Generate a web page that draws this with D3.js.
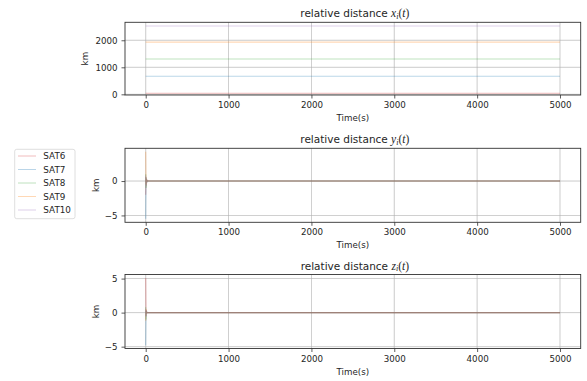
<!DOCTYPE html>
<html>
  <script src="https://cdn.jsdelivr.net/npm/d3@7"></script>
  <style>
    body { margin: 0; background: #fff; }
    text { font-family: "DejaVu Sans", sans-serif; fill: #262626; }
    .math { font-family: "Liberation Serif", serif; font-style: italic; }
  </style>
  <body>
    <script>
// data
var sats = ['SAT6', 'SAT7', 'SAT8', 'SAT9', 'SAT10']
var colors = ['#d62728', '#1f77b4', '#2ca02c', '#ff7f0e', '#9467bd']
var xTicks = [0, 1000, 2000, 3000, 4000, 5000]

// x(t): flat lines over the whole run
var tFlat = [0, 5000]
var xSat6 = [40, 40]
var xSat7 = [667, 667]
var xSat8 = [1307, 1307]
var xSat9 = [1930, 1930]
var xSat10 = [2530, 2530]

// y(t), z(t): short transient right after t = 0, then zero
var tTrans = [0, 4, 8, 12, 16, 24, 40, 5000]
var ySat6 = [-2.0, 0.6, -0.8, 0.3, -0.1, 0.05, 0, 0]
var ySat7 = [-5.5, 0.5, -0.3, 0.2, -0.1, 0, 0, 0]
var ySat8 = [1.0, -1.0, 0.4, -0.2, 0.1, 0, 0, 0]
var ySat9 = [4.27, -0.5, 0.3, -0.1, 0.05, 0, 0, 0]
var ySat10 = [0.8, -0.6, 0.3, -0.2, 0.1, 0, 0, 0]

var zSat6 = [5.1, -0.5, 0.4, -0.1, 0.05, 0, 0, 0]
var zSat7 = [-4.78, 0.3, -0.2, 0.1, 0, 0, 0, 0]
var zSat8 = [0.8, -1.0, 0.3, -0.1, 0.05, 0, 0, 0]
var zSat9 = [-1.2, 0.5, -0.2, 0.1, 0, 0, 0, 0]
var zSat10 = [0.5, -0.6, 0.3, -0.1, 0.05, 0, 0, 0]

var W = 587, H = 381
var svg = d3.select('body').append('svg').attr('width', W).attr('height', H)

var left = 125, right = 580.7
var x = d3.scaleLinear().domain([-250, 5250]).range([left, right])

var panels = [
  { top: 22.3, bottom: 95, domain: [-25, 2665], ticks: [0, 1000, 2000], sym: 'x', kmX: 88,
    t: tFlat, series: [xSat6, xSat7, xSat8, xSat9, xSat10] },
  { top: 148.3, bottom: 222.3, domain: [-6.0, 4.76], ticks: [-5, 0], sym: 'y', kmX: 99,
    t: tTrans, series: [ySat6, ySat7, ySat8, ySat9, ySat10] },
  { top: 274.5, bottom: 348.5, domain: [-5.27, 5.6], ticks: [-5, 0, 5], sym: 'z', kmX: 99,
    t: tTrans, series: [zSat6, zSat7, zSat8, zSat9, zSat10] }
]

panels.forEach(function(p){
  var y = d3.scaleLinear().domain(p.domain).range([p.bottom, p.top])
  var g = svg.append('g')

  // grid
  g.selectAll('.gx').data(xTicks).enter().append('line')
    .attr('x1', function(d){ return x(d) }).attr('x2', function(d){ return x(d) })
    .attr('y1', p.top).attr('y2', p.bottom)
    .attr('stroke', '#b0b0b0').attr('stroke-width', 0.8).attr('opacity', 0.8)
  g.selectAll('.gy').data(p.ticks).enter().append('line')
    .attr('x1', left).attr('x2', right)
    .attr('y1', function(d){ return y(d) }).attr('y2', function(d){ return y(d) })
    .attr('stroke', '#b0b0b0').attr('stroke-width', 0.8).attr('opacity', 0.8)

  // series
  var line = d3.line()
    .x(function(d, i){ return x(p.t[i]) })
    .y(function(d){ return y(d) })
  g.selectAll('.s').data(p.series).enter().append('path')
    .attr('d', line)
    .attr('fill', 'none')
    .attr('stroke', function(d, i){ return colors[i] })
    .attr('stroke-width', 1.1)
    .attr('opacity', 0.3)

  // axes
  var ax = g.append('g').attr('transform', 'translate(0,' + p.bottom + ')')
    .call(d3.axisBottom(x).tickValues(xTicks).tickSize(3.5).tickPadding(3.5).tickFormat(d3.format('d')))
  var ay = g.append('g').attr('transform', 'translate(' + left + ',0)')
    .call(d3.axisLeft(y).tickValues(p.ticks).tickSize(3.5).tickPadding(4)
      .tickFormat(function(d){ return d < 0 ? '\u2212' + Math.abs(d) : d }))
  ;[ax, ay].forEach(function(a){
    a.select('.domain').remove()
    a.selectAll('line').attr('stroke', '#333').attr('stroke-width', 0.8)
    a.selectAll('text').attr('font-size', 8.7).attr('fill', '#262626')
      .style('font-family', '"DejaVu Sans", sans-serif')
  })

  // frame
  g.append('rect').attr('x', left).attr('y', p.top)
    .attr('width', right - left).attr('height', p.bottom - p.top)
    .attr('fill', 'none').attr('stroke', '#333').attr('stroke-width', 0.9)

  // labels
  g.append('text').attr('x', (left + right) / 2).attr('y', p.bottom + 26)
    .attr('text-anchor', 'middle').attr('font-size', 8.7).text('Time(s)')
  g.append('text')
    .attr('transform', 'translate(' + p.kmX + ',' + (p.top + p.bottom) / 2 + ') rotate(-90)')
    .attr('text-anchor', 'middle').attr('font-size', 8.7).text('km')

  var title = g.append('text').attr('x', (left + right) / 2 + 2).attr('y', p.top - 5)
    .attr('text-anchor', 'middle').attr('font-size', 10.5)
  title.append('tspan').text('relative distance ')
  title.append('tspan').attr('class', 'math').attr('font-size', 11.5).text(p.sym)
  title.append('tspan').attr('class', 'math').attr('font-size', 8).attr('dy', 1.5).text('i')
  title.append('tspan').attr('class', 'math').attr('font-size', 11.5).attr('dy', -1.5)
    .style('font-style', 'normal').text('(')
  title.append('tspan').attr('class', 'math').attr('font-size', 11.5).text('t')
  title.append('tspan').attr('class', 'math').attr('font-size', 11.5)
    .style('font-style', 'normal').text(')')
})

// legend
var lg = svg.append('g')
lg.append('rect').attr('x', 14.7).attr('y', 149.3).attr('width', 60.3).attr('height', 69.4)
  .attr('rx', 2).attr('fill', '#fff').attr('stroke', '#d6d6d6').attr('stroke-width', 0.8)
var rows = lg.selectAll('.row').data(sats).enter().append('g')
  .attr('transform', function(d, i){ return 'translate(0,' + (156 + i * 13.5) + ')' })
rows.append('line').attr('x1', 18).attr('x2', 36).attr('y1', 0).attr('y2', 0)
  .attr('stroke', function(d, i){ return colors[i] }).attr('stroke-width', 1).attr('opacity', 0.3)
rows.append('text').attr('x', 43.3).attr('y', 3.2).attr('font-size', 8.8).text(function(d){ return d })
    </script>
  </body>
</html>
